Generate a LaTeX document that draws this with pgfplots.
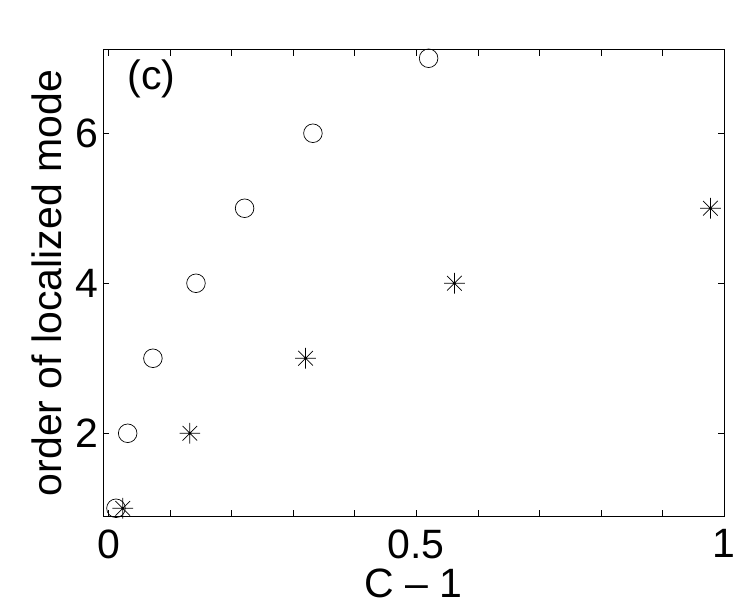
\documentclass[border=0pt]{standalone}
\usepackage{fontspec}
\setmainfont{Liberation Sans}
\usepackage{pgfplots}
\pgfplotsset{compat=1.18}
\pgfdeclareplotmark{mstar}{%
  \pgfpathmoveto{\pgfqpoint{-\pgfplotmarksize}{0pt}}\pgfpathlineto{\pgfqpoint{\pgfplotmarksize}{0pt}}%
  \pgfpathmoveto{\pgfqpoint{0pt}{-\pgfplotmarksize}}\pgfpathlineto{\pgfqpoint{0pt}{\pgfplotmarksize}}%
  \pgfpathmoveto{\pgfqpoint{-0.707\pgfplotmarksize}{-0.707\pgfplotmarksize}}\pgfpathlineto{\pgfqpoint{0.707\pgfplotmarksize}{0.707\pgfplotmarksize}}%
  \pgfpathmoveto{\pgfqpoint{-0.707\pgfplotmarksize}{0.707\pgfplotmarksize}}\pgfpathlineto{\pgfqpoint{0.707\pgfplotmarksize}{-0.707\pgfplotmarksize}}%
  \pgfusepathqstroke
  \pgfpathcircle{\pgfpointorigin}{1.2pt}\pgfusepathqfill
}
\begin{document}
\begin{tikzpicture}
\begin{axis}[
  scale only axis,
  width=620.7pt, height=466pt,
  xmin=-0.0086, xmax=1,
  ymin=0.897, ymax=7.11,
  xtick={0,0.1,0.2,0.3,0.4,0.5,0.6,0.7,0.8,0.9,1},
  xticklabels={0,{},{},{},{},0.5,{},{},{},{},1},
  ytick={2,4,6},
  tick align=inside,
  major tick length=6pt,
  tick style={black, line width=0.6pt},
  axis line style={black, line width=1pt},
  /pgf/number format/assume math mode=true,
  ticklabel style={font=\fontsize{41}{48}\selectfont, inner sep=0pt},
  x tick label style={anchor=north, yshift=-13.5pt},
  y tick label style={anchor=east, xshift=-5pt},
  label style={font=\fontsize{41}{48}\selectfont, inner sep=0pt},
  xlabel={C -- 1},
  ylabel={order of localized mode},
  xlabel style={at={(axis description cs:0.5,-0.145)}, anchor=center},
  ylabel style={at={(axis description cs:-0.0907,0.5)}, anchor=center, rotate=0},
  clip=false,
]
\addplot[only marks, mark=o, mark size=9.3pt, black, line width=0.7pt] coordinates {
  (0.012,1) (0.031,2) (0.072,3) (0.142,4) (0.221,5) (0.332,6) (0.52,7)
};
\addplot[only marks, mark=mstar, mark size=10.3pt, black, line width=0.7pt] coordinates {
  (0.023,1) (0.132,2) (0.320,3) (0.562,4) (0.978,5)
};
\node[font=\fontsize{41}{48}\selectfont, inner sep=0pt] at (axis cs:0.07,6.72) {(c)};
\end{axis}
\pgfresetboundingbox
\path (current axis.south west) ++(-103.3pt,-90pt) rectangle ++(741pt,606pt);
\end{tikzpicture}
\end{document}
